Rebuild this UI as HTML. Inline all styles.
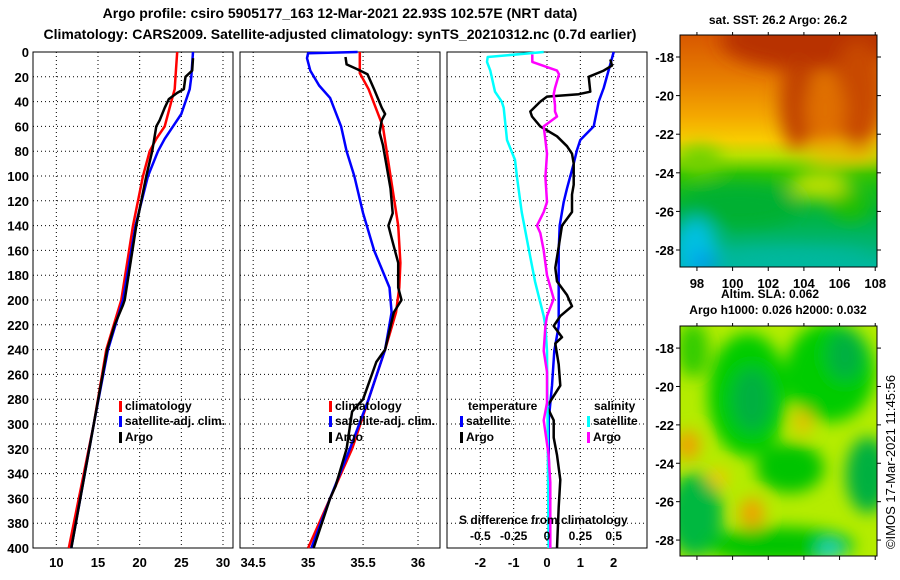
<!DOCTYPE html>
<html><head><meta charset="utf-8"><style>
body{margin:0;background:#fff;}
svg{display:block;font-family:"Liberation Sans",sans-serif;font-weight:bold;}
</style></head><body>
<svg id="c" width="900" height="580" xmlns="http://www.w3.org/2000/svg">
<defs>
<linearGradient id="sstg" x1="0" y1="0" x2="0" y2="1">
<stop offset="0" stop-color="#d85800"/><stop offset="0.2" stop-color="#e88000"/><stop offset="0.35" stop-color="#f4a800"/><stop offset="0.45" stop-color="#f8cc00"/><stop offset="0.52" stop-color="#b8e000"/><stop offset="0.6" stop-color="#30c400"/><stop offset="0.75" stop-color="#00b438"/><stop offset="0.9" stop-color="#00b470"/><stop offset="1" stop-color="#00b8a0"/>
</linearGradient>
<filter id="blur" x="-30%" y="-30%" width="160%" height="160%"><feGaussianBlur stdDeviation="8"/></filter>
<filter id="blur2" x="-30%" y="-30%" width="160%" height="160%"><feGaussianBlur stdDeviation="9"/></filter>
<clipPath id="cm1"><rect x="680" y="35" width="197" height="232"/></clipPath>
<clipPath id="cm2"><rect x="680" y="326" width="197" height="230"/></clipPath>
</defs>
<text x="340" y="18" font-size="14" text-anchor="middle">Argo profile: csiro 5905177_163 12-Mar-2021 22.93S 102.57E (NRT data)</text>
<text x="340" y="39" font-size="14" text-anchor="middle">Climatology: CARS2009. Satellite-adjusted climatology: synTS_20210312.nc (0.7d earlier)</text>
<g id="plots"></g>
<!-- top map -->
<g clip-path="url(#cm1)">
<rect x="680" y="35" width="197" height="232" fill="url(#sstg)"/>
<g filter="url(#blur2)">
<ellipse cx="810" cy="40" rx="90" ry="30" fill="#b83000"/>
<ellipse cx="798" cy="105" rx="18" ry="45" fill="#c04000"/>
<ellipse cx="858" cy="95" rx="25" ry="55" fill="#c84800"/>
<ellipse cx="825" cy="110" rx="20" ry="35" fill="#e07000"/>
<ellipse cx="845" cy="155" rx="40" ry="8" fill="#f0b800"/>
<ellipse cx="700" cy="160" rx="22" ry="14" fill="#70d000"/>
<ellipse cx="820" cy="185" rx="30" ry="14" fill="#c0e000"/>
<ellipse cx="850" cy="205" rx="20" ry="15" fill="#20c000"/>
<ellipse cx="740" cy="205" rx="60" ry="22" fill="#00b030"/>
<ellipse cx="695" cy="248" rx="22" ry="30" fill="#00c0e0"/>
<ellipse cx="705" cy="262" rx="15" ry="8" fill="#0090f0"/>
<ellipse cx="790" cy="258" rx="80" ry="10" fill="#00b8a0"/>
</g>
</g>
<rect x="680" y="35" width="197" height="232" fill="none" stroke="#000"/>
<text x="778" y="24" font-size="12" text-anchor="middle">sat. SST: 26.2 Argo: 26.2</text>
<!-- bottom map -->
<g clip-path="url(#cm2)">
<rect x="680" y="326" width="197" height="230" fill="#b4ec00"/>
<g filter="url(#blur)">
<ellipse cx="693" cy="350" rx="16" ry="28" fill="#30cc00"/>
<ellipse cx="748" cy="395" rx="40" ry="62" fill="#00cc00"/>
<ellipse cx="752" cy="400" rx="20" ry="32" fill="#00b040"/>
<ellipse cx="830" cy="372" rx="45" ry="50" fill="#00cc00"/>
<ellipse cx="845" cy="355" rx="18" ry="25" fill="#00b040"/>
<ellipse cx="790" cy="468" rx="34" ry="25" fill="#00c400"/>
<ellipse cx="868" cy="475" rx="22" ry="38" fill="#00b040"/>
<ellipse cx="695" cy="515" rx="28" ry="42" fill="#00b840"/>
<ellipse cx="780" cy="545" rx="75" ry="18" fill="#00c400"/>
<ellipse cx="830" cy="550" rx="12" ry="10" fill="#20d0c0"/>
<ellipse cx="688" cy="445" rx="12" ry="15" fill="#f0a000"/>
<ellipse cx="752" cy="513" rx="12" ry="15" fill="#f0a000"/>
<ellipse cx="803" cy="422" rx="8" ry="12" fill="#f0b800"/>
<ellipse cx="718" cy="478" rx="10" ry="10" fill="#f0c800"/>
</g>
</g>
<rect x="680" y="326" width="197" height="230" fill="none" stroke="#000"/>
<text x="770" y="298" font-size="12" text-anchor="middle">Altim. SLA: 0.062</text>
<text x="778" y="314" font-size="12" text-anchor="middle">Argo h1000: 0.026 h2000: 0.032</text>
<text transform="translate(895,462) rotate(-90)" font-size="13" font-weight="normal" text-anchor="middle">©IMOS 17-Mar-2021 11:45:56</text>
<g id="maps"></g>
</svg>
<script>
// ---- data ----
const depthTicks=[0,20,40,60,80,100,120,140,160,180,200,220,240,260,280,300,320,340,360,380,400];
const tempTicks=[10,15,20,25,30];
const salTicks=[34.5,35,35.5,36];
const diffTicks=[-2,-1,0,1,2];
const sdiffTicks=[-0.5,-0.25,0,0.25,0.5];
const sdiffLabels=["-0.5","-0.25","0","0.25","0.5"];
const latTicks=[-18,-20,-22,-24,-26,-28];
const lonTicks=[98,100,102,104,106,108];

const tClimD=[0,20,30,40,60,70,80,100,140,200,240,300,400];
const tClimV=[24.5,24.3,24.2,23.8,23,22,21.2,20.4,19.2,17.8,16,14.5,11.5];
const tSatD=[0,20,30,50,60,70,80,100,140,200,240,300,400];
const tSatV=[26.4,26.2,26,25,24,23,22.2,21,19.5,18,16.2,14.5,11.8];
const tArgoD=[5,15,20,30,33,38,45,55,60,80,100,140,200,204,220,240,300,400];
const tArgoV=[26.4,26.3,25.5,25.3,24.5,23.5,23,22.4,22,21.5,20.8,19.6,18.2,18,17,16.1,14.5,11.8];

const sClimD=[0,17,30,60,100,140,170,190,210,240,280,320,360,400];
const sClimV=[35.47,35.47,35.55,35.68,35.75,35.82,35.84,35.83,35.8,35.7,35.55,35.4,35.2,35.0];
const sSatD=[0,1,5,15,27,37,60,80,100,130,160,190,210,240,280,320,360,400];
const sSatV=[35.45,35.0,34.99,35.02,35.1,35.2,35.3,35.35,35.42,35.5,35.6,35.74,35.76,35.7,35.55,35.38,35.2,35.03];
const sArgoD=[4,10,14,18,30,45,50,55,65,75,90,110,130,140,150,170,190,200,210,240,250,280,290,320,350,360,400];
const sArgoV=[35.34,35.35,35.45,35.54,35.6,35.67,35.7,35.67,35.65,35.68,35.71,35.75,35.77,35.73,35.76,35.82,35.82,35.85,35.78,35.7,35.62,35.5,35.4,35.35,35.25,35.2,35.05];

const dTSatD=[0,29,40,60,71,79,90,110,121,140,160,185,221,241,269,297,325,353,400];
const dTSatV=[2.0,1.7,1.55,1.4,1.0,0.9,0.8,0.6,0.5,0.38,0.35,0.35,0.35,0.22,0.15,0.05,0.05,0.08,0.1];
const dTArgoD=[6,11,15,20,32,34,36,40,48,52,60,68,76,82,90,107,115,129,140,157,174,185,196,205,213,221,230,235,252,269,286,297,311,325,345,367,400];
const dTArgoV=[1.9,1.95,1.7,1.25,1.3,0.95,0.0,-0.2,-0.5,-0.45,-0.2,0.3,0.6,0.75,0.8,0.8,0.75,0.75,0.45,0.35,0.25,0.3,0.6,0.75,0.4,0.2,0.45,0.25,0.35,0.4,0.0,0.2,0.2,0.3,0.4,0.35,0.3];
const dSSatD=[0,4,8,15,32,40,45,71,87,101,129,157,185,213,221,241,400];
const dSSatV=[-0.025,-0.445,-0.45,-0.425,-0.39,-0.34,-0.325,-0.3,-0.24,-0.225,-0.19,-0.14,-0.09,-0.025,-0.012,0,0.012];
const dSArgoD=[2,8,15,18,29,34,43,48,52,60,71,82,101,121,129,140,146,160,180,199,213,221,241,258,283,297,325,347,367,400];
const dSArgoV=[-0.11,-0.11,0.075,0.09,0.06,0.05,0.06,0.06,0.075,-0.025,-0.012,0,-0.012,0,-0.025,-0.075,-0.05,-0.025,0,0.05,0,-0.012,-0.025,0,0,-0.025,0.012,0.025,0.025,0.025];

// ---- layout ----
const NS="http://www.w3.org/2000/svg";
const Y0=52,Y1=548;
const yS=d=>Y0+(d/400)*(Y1-Y0);
function mk(tag,at,parent){const e=document.createElementNS(NS,tag);for(const k in at)e.setAttribute(k,at[k]);parent.appendChild(e);return e;}
const G=document.getElementById('plots');

function panel(name,x0,x1,vmin,vmax,xt,xlabels,showY){
  const g=mk('g',{},G);
  
  
  const xs=v=>x0+(v-vmin)/(vmax-vmin)*(x1-x0);
  depthTicks.forEach(d=>{
    const l=mk('line',{x1:x0,x2:x1,y1:yS(d),y2:yS(d),stroke:'#000','stroke-width':1,'stroke-dasharray':'1,3'},g);
    
    
    if(showY){
      const t=mk('text',{x:x0-4,y:yS(d)+5,'font-size':13,'text-anchor':'end'},g);
      
      
      t.textContent=d;
    }
  });
  xt.forEach((v,i)=>{
    const l=mk('line',{x1:xs(v),x2:xs(v),y1:Y0,y2:Y1,stroke:'#000','stroke-width':1,'stroke-dasharray':'1,3'},g);
    
    
    const t=mk('text',{x:xs(v),y:Y1+19,'font-size':13,'text-anchor':'middle'},g);
    
    
    t.textContent=xlabels[i];
  });
  const r=mk('rect',{x:x0,y:Y0,width:x1-x0,height:Y1-Y0,fill:'none',stroke:'#000','stroke-width':1},g);
  
  
  return {g,xs};
}
function series(p,name,D,V,color,scale){
  const pts=D.map((d,i)=>p.xs(V[i]*(scale||1)).toFixed(1)+','+yS(d).toFixed(1)).join(' ');
  const l=mk('polyline',{points:pts,fill:'none',stroke:color,'stroke-width':2.5,'stroke-linejoin':'round'},p.g);
  
  
}
function legendItem(g,x,y,color,label,name){
  const r=mk('rect',{x:x,y:y-9,width:3,height:11,fill:color},g);
  
  
  const t=mk('text',{x:x+6,y:y,'font-size':12},g);
  
  
  t.textContent=label;
}
function txt(g,x,y,s,name,anchor){
  const t=mk('text',{x:x,y:y,'font-size':12,'text-anchor':anchor||'start'},g);
  
  
  t.textContent=s;
  return t;
}

const p1=panel('temperature-panel',33,233,7.2,31.2,tempTicks,tempTicks.map(String),true);
series(p1,'temp-climatology-line',tClimD,tClimV,'#f00');
series(p1,'temp-satellite-line',tSatD,tSatV,'#00f');
series(p1,'temp-argo-line',tArgoD,tArgoV,'#000');
legendItem(p1.g,119,410,'#f00','climatology','legend-climatology');
legendItem(p1.g,119,425,'#00f','satellite-adj. clim.','legend-satellite');
legendItem(p1.g,119,441,'#000','Argo','legend-argo');

const p2=panel('salinity-panel',240,440,34.38,36.2,salTicks,salTicks.map(String),false);
series(p2,'sal-climatology-line',sClimD,sClimV,'#f00');
series(p2,'sal-satellite-line',sSatD,sSatV,'#00f');
series(p2,'sal-argo-line',sArgoD,sArgoV,'#000');
legendItem(p2.g,329,410,'#f00','climatology','legend-climatology');
legendItem(p2.g,329,425,'#00f','satellite-adj. clim.','legend-satellite');
legendItem(p2.g,329,441,'#000','Argo','legend-argo');

const p3=panel('difference-panel',447,647,-3,3,diffTicks,diffTicks.map(String),false);
series(p3,'diff-temp-satellite-line',dTSatD,dTSatV,'#00f');
series(p3,'diff-temp-argo-line',dTArgoD,dTArgoV,'#000');
series(p3,'diff-sal-satellite-line',dSSatD,dSSatV,'#0ff',4);
series(p3,'diff-sal-argo-line',dSArgoD,dSArgoV,'#f0f',4);
txt(p3.g,468,410,'temperature','legend-temperature-title');
txt(p3.g,594,410,'salinity','legend-salinity-title');
legendItem(p3.g,460,425,'#00f','satellite','legend-temp-satellite');
legendItem(p3.g,460,441,'#000','Argo','legend-temp-argo');
legendItem(p3.g,587,425,'#0ff','satellite','legend-sal-satellite');
legendItem(p3.g,587,441,'#f0f','Argo','legend-sal-argo');
txt(p3.g,459,524,'S difference from climatology','s-diff-axis-title');
sdiffTicks.forEach((v,i)=>txt(p3.g,p3.xs(v*4),540,sdiffLabels[i],'s-diff-tick-label','middle'));

// map ticks
const M=document.getElementById('maps');
function mapAxes(top,bot,latTop,latBot,showLon){
  const ly=v=>top+(v-latTop)/(latBot-latTop)*(bot-top);
  latTicks.forEach(v=>{
    mk('line',{x1:877,x2:881,y1:ly(v),y2:ly(v),stroke:'#000'},M);
    mk('line',{x1:676,x2:680,y1:ly(v),y2:ly(v),stroke:'#000'},M);
    txt(M,674,ly(v)+5,String(v),'map-lat-label','end').setAttribute('font-size','13');
  });
  const lx=v=>680+(v-97.05)/(108.1-97.05)*197;
  lonTicks.forEach(v=>{
    mk('line',{x1:lx(v),x2:lx(v),y1:bot,y2:bot+4,stroke:'#000'},M);
    mk('line',{x1:lx(v),x2:lx(v),y1:top-3,y2:top,stroke:'#000'},M);
    if(showLon) txt(M,lx(v),bot+21,String(v),'map-lon-label','middle').setAttribute('font-size','13');
  });
}
mapAxes(35,267,-16.86,-28.88,true);
mapAxes(326,556,-16.85,-28.83,false);
</script>
</body></html>
